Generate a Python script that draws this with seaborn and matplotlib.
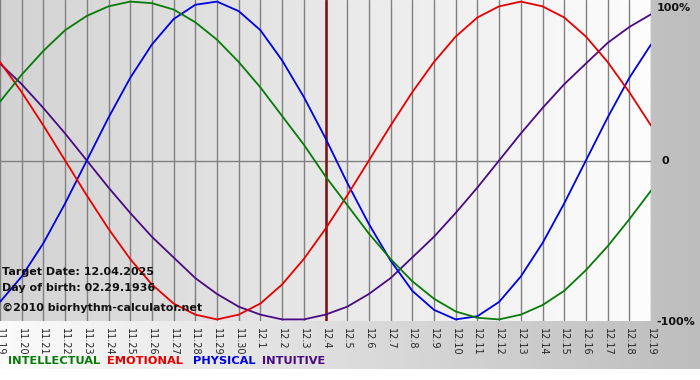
import numpy as np
import pandas as pd
import seaborn as sns
import matplotlib.pyplot as plt
from matplotlib.colors import LinearSegmentedColormap

sns.set_style("white")
plt.rcParams['font.family'] = ['DejaVu Sans']

dates = ['11.19', '11.20', '11.21', '11.22', '11.23', '11.24', '11.25', '11.26',
         '11.27', '11.28', '11.29', '11.30', '12.1', '12.2', '12.3', '12.4',
         '12.5', '12.6', '12.7', '12.8', '12.9', '12.10', '12.11', '12.12',
         '12.13', '12.14', '12.15', '12.16', '12.17', '12.18', '12.19']
intellectual = [0.37, 0.54, 0.69, 0.82, 0.91, 0.97, 1.00, 0.99, 0.95, 0.87, 0.76,
                0.62, 0.46, 0.28, 0.10, -0.10, -0.28, -0.46, -0.62, -0.76, -0.87,
                -0.95, -0.99, -1.00, -0.97, -0.91, -0.82, -0.69, -0.54, -0.37, -0.19]
emotional = [0.62, 0.43, 0.22, 0.00, -0.22, -0.43, -0.62, -0.78, -0.90, -0.97, -1.00,
             -0.97, -0.90, -0.78, -0.62, -0.43, -0.22, 0.00, 0.22, 0.43, 0.62, 0.78,
             0.90, 0.97, 1.00, 0.97, 0.90, 0.78, 0.62, 0.43, 0.22]
physical = [-0.89, -0.73, -0.52, -0.27, 0.00, 0.27, 0.52, 0.73, 0.89, 0.98, 1.00,
            0.94, 0.82, 0.63, 0.40, 0.14, -0.14, -0.40, -0.63, -0.82, -0.94, -1.00,
            -0.98, -0.89, -0.73, -0.52, -0.27, 0.00, 0.27, 0.52, 0.73]
intuitive = [0.61, 0.48, 0.33, 0.17, 0.00, -0.17, -0.33, -0.48, -0.61, -0.74, -0.84,
             -0.92, -0.97, -1.00, -1.00, -0.97, -0.92, -0.84, -0.74, -0.61, -0.48,
             -0.33, -0.17, 0.00, 0.17, 0.33, 0.48, 0.61, 0.74, 0.84, 0.92]
target_day = '12.4'

names = ['INTELLECTUAL', 'EMOTIONAL', 'PHYSICAL', 'INTUITIVE']
colors = ['#087a08', '#e60000', '#0000e0', '#4a0a82']

df = pd.DataFrame({
    'day': list(range(len(dates))) * 4,
    'value': intellectual + emotional + physical + intuitive,
    'cycle': [n for n in names for _ in dates],
})

fig = plt.figure(figsize=(7, 3.8), dpi=100)

# figure background gradient (white -> gray)
grad = np.linspace(0, 1, 256).reshape(1, -1)
bg = fig.add_axes([0, 11 / 380, 1, 369 / 380], zorder=-10)
bg.imshow(grad, cmap=LinearSegmentedColormap.from_list('g', ['#fbfbfb', '#bdbdbd']),
          aspect='auto', extent=[0, 1, 0, 1])
bg.axis('off')

ax = fig.add_axes([0, 59 / 380, 651 / 700, 321 / 380])
ax.imshow(grad, cmap=LinearSegmentedColormap.from_list('p', ['#d3d3d3', '#fdfdfd']),
          aspect='auto', extent=[0, len(dates) - 1, -1.01, 1.01], zorder=0)

for i in range(len(dates)):
    ax.axvline(i, color='#808080', lw=1.0, zorder=1)
ax.axhline(0, color='#808080', lw=1.0, zorder=1)
ax.axvline(dates.index(target_day), color='#7a1010', lw=1.8, zorder=1)

sns.lineplot(data=df, x='day', y='value', hue='cycle', palette=dict(zip(names, colors)),
             hue_order=names[::-1], lw=1.3, legend=False, ax=ax, zorder=3)

ax.set_xlim(0, len(dates) - 1)
ax.set_ylim(-1.01, 1.01)
ax.set_xticks(range(len(dates)))
ax.set_xticklabels(dates, rotation=-90, fontsize=7)
ax.tick_params(axis='x', length=3, color='#808080', pad=2)
ax.set_yticks([])
ax.set_xlabel('')
ax.set_ylabel('')
for s in ax.spines.values():
    s.set_visible(False)

for txt, y in [('Target Date: 12.04.2025', -0.70), ('Day of birth: 02.29.1936', -0.80),
               ('©2010 biorhythm-calculator.net', -0.93)]:
    ax.text(0.1, y, txt, fontsize=8, fontweight='bold', color='#111111',
            va='center', ha='left', zorder=4)

for lab, xx, yy in [('100%', 657, 372), ('0', 661, 219), ('-100%', 656, 58)]:
    fig.text(xx / 700, yy / 380, lab, fontsize=8, fontweight='bold',
             color='#111111', va='center', ha='left')

x = 8
for n, c, w in zip(names, colors, [99, 86, 69, 0]):
    fig.text(x / 700, 19 / 380, n, color=c, fontsize=8.2, fontweight='bold',
             va='center', ha='left')
    x += w

fig.savefig('out.png', dpi=100)
